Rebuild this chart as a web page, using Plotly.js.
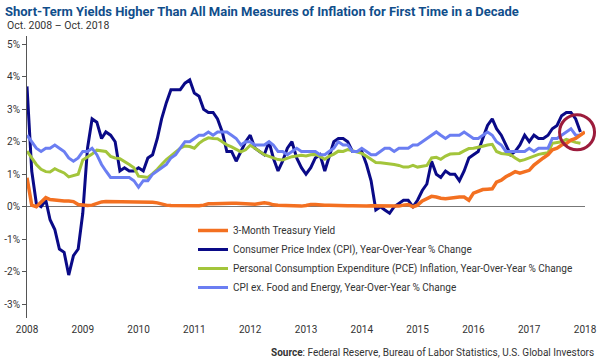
<!DOCTYPE html>
<html>
<head>
<meta charset="utf-8">
<script src="https://cdn.plot.ly/plotly-3.0.1.min.js"></script>
<style>
  html, body { margin: 0; padding: 0; background: #fff; }
  #chart { width: 600px; height: 360px; }
</style>
</head>
<body>
<div id="chart"></div>
<script>
// ---- Data (monthly, first value = Oct. 2008) ----
const startDate = '2008-10-01';
const endDate = '2018-10-01';

const seriesNames = [
  '3-Month Treasury Yield',
  'Consumer Price Index (CPI), Year-Over-Year % Change',
  'Personal Consumption Expenditure (PCE) Inflation, Year-Over-Year % Change',
  'CPI ex. Food and Energy, Year-Over-Year % Change'
];

// 3-Month Treasury Yield (%), Oct 2008 - Oct 2018
const tbill = [
  0.89,0.05,0.0,0.15,0.28,0.22,0.2,0.18,0.18,0.18,
  0.16,0.07,0.05,0.04,0.05,0.1,0.15,0.16,0.16,0.15,
  0.16,0.15,0.14,0.15,0.14,0.15,0.16,0.14,0.12,0.08,
  0.05,0.04,0.04,0.03,0.02,0.02,0.02,0.03,0.05,0.09,
  0.09,0.1,0.1,0.1,0.11,0.11,0.1,0.1,0.09,0.08,
  0.1,0.12,0.1,0.06,0.05,0.04,0.04,0.03,0.03,0.02,
  0.04,0.07,0.07,0.05,0.05,0.05,0.04,0.03,0.03,0.03,
  0.03,0.02,0.02,0.02,0.03,0.03,0.02,0.03,0.02,0.02,
  0.02,0.05,0.07,0.0,0.05,0.18,0.25,0.32,0.3,0.26,
  0.25,0.27,0.28,0.3,0.3,0.2,0.42,0.48,0.53,0.54,
  0.55,0.76,0.82,0.92,1.0,1.08,1.03,1.08,1.12,1.28,
  1.4,1.5,1.6,1.75,1.8,1.9,1.95,2.05,2.1,2.2,2.3
];

// CPI YoY (%), Oct 2008 - Sep 2018
const cpi = [
  3.7,1.1,0.1,
  0.0,0.2,-0.4,-0.7,-1.3,-1.4,-2.1,-1.5,-1.3,-0.2,1.8,2.7,
  2.6,2.1,2.3,2.2,2.0,1.1,1.2,1.1,1.1,1.2,1.1,1.5,
  1.6,2.1,2.7,3.2,3.6,3.6,3.6,3.8,3.9,3.5,3.4,3.0,
  2.9,2.9,2.7,2.3,1.7,1.7,1.4,1.7,2.0,2.2,1.8,1.7,
  1.6,2.0,1.5,1.1,1.4,1.8,2.0,1.5,1.2,1.0,1.2,1.5,
  1.6,1.1,1.5,2.0,2.1,2.1,2.0,1.7,1.7,1.7,1.3,0.8,
  -0.1,0.0,-0.1,-0.2,0.0,0.1,0.2,0.2,0.0,0.2,0.5,0.7,
  1.4,1.0,0.9,1.1,1.0,1.0,0.8,1.1,1.5,1.6,1.7,2.1,
  2.5,2.7,2.4,2.2,1.9,1.6,1.7,1.9,2.2,2.0,2.2,2.1,
  2.1,2.2,2.4,2.5,2.8,2.9,2.9,2.7,2.3
];

// PCE inflation YoY (%), Oct 2008 - Sep 2018
const pce = [
  1.71,1.48,1.3,1.15,1.08,1.07,1.17,1.1,1.04,0.92,
  0.95,1.0,1.44,1.52,1.62,1.74,1.72,1.7,1.55,1.5,
  1.48,1.4,1.3,1.2,0.94,0.92,0.9,1.02,1.15,1.3,
  1.45,1.56,1.68,1.8,1.87,1.85,1.8,1.95,2.05,2.12,
  2.1,2.09,2.0,1.9,1.84,1.77,1.69,1.75,1.89,1.8,
  1.7,1.6,1.55,1.5,1.45,1.44,1.5,1.54,1.56,1.58,
  1.56,1.6,1.61,1.55,1.46,1.55,1.62,1.71,1.7,1.76,
  1.72,1.68,1.64,1.55,1.45,1.36,1.35,1.34,1.32,1.3,
  1.27,1.22,1.22,1.27,1.22,1.24,1.27,1.5,1.52,1.46,
  1.56,1.62,1.64,1.64,1.72,1.79,1.8,1.82,1.86,1.9,
  1.92,1.7,1.64,1.62,1.6,1.5,1.41,1.45,1.51,1.56,
  1.61,1.64,1.66,1.95,1.97,2.0,2.07,2.02,1.98,1.95
];

// CPI ex. Food and Energy YoY (%), Oct 2008 - Sep 2018
const coreCpi = [
  2.2,2.0,1.8,
  1.7,1.8,1.8,1.9,1.8,1.7,1.5,1.4,1.5,1.7,1.7,1.8,
  1.6,1.3,1.1,0.9,0.9,0.9,0.9,0.9,0.8,0.6,0.8,0.8,
  1.0,1.1,1.2,1.3,1.5,1.6,1.8,2.0,2.0,2.1,2.2,2.2,
  2.3,2.2,2.3,2.3,2.3,2.2,2.1,1.9,2.0,2.0,1.9,1.9,
  1.9,2.0,1.9,1.7,1.7,1.6,1.7,1.8,1.7,1.7,1.7,1.7,
  1.6,1.6,1.7,1.8,2.0,1.9,1.9,1.7,1.7,1.8,1.7,1.6,
  1.6,1.7,1.8,1.8,1.7,1.8,1.8,1.8,1.9,1.9,2.0,2.1,
  2.2,2.3,2.2,2.1,2.2,2.2,2.2,2.3,2.2,2.1,2.1,2.2,
  2.3,2.2,2.0,1.9,1.7,1.7,1.7,1.7,1.7,1.8,1.7,1.8,
  1.8,1.8,2.1,2.1,2.2,2.3,2.4,2.2,2.2
];

// Axis ticks
const xTickVals = ['2008-10-01','2009-10-01','2010-10-01','2011-10-01','2012-10-01','2013-10-01',
                   '2014-10-01','2015-10-01','2016-10-01','2017-10-01','2018-10-01'];
const xTickText = ['2008','2009','2010','2011','2012','2013','2014','2015','2016','2017','2018'];
const yTickVals = [-3,-2,-1,0,1,2,3,4,5];
const yTickText = ['-3%','-2%','-1%','0%','1%','2%','3%','4%','5%'];

// Highlighted point (circled)
const highlightDate = '2018-08-10';
const highlightValue = 2.29;

// ---- Build month list ----
function monthList(start, n) {
  const out = [];
  const y0 = parseInt(start.slice(0, 4), 10), m0 = parseInt(start.slice(5, 7), 10) - 1;
  for (let i = 0; i < n; i++) {
    const t = m0 + i;
    const y = y0 + Math.floor(t / 12), m = (t % 12) + 1;
    out.push(y + '-' + String(m).padStart(2, '0') + '-01');
  }
  return out;
}

const colors = ['#f37021', '#0a0a87', '#a3c53b', '#6b7ef2'];
const yRange = [-3.42, 5.25];

const mk = (vals, i, w, rank) => ({
  type: 'scatter', mode: 'lines',
  x: monthList(startDate, vals.length), y: vals,
  name: seriesNames[i],
  line: { color: colors[i], width: w },
  legendrank: rank,
  hoverinfo: 'skip'
});

const traces = [
  mk(cpi, 1, 3, 2),
  mk(pce, 2, 3, 3),
  mk(coreCpi, 3, 3, 4),
  mk(tbill, 0, 3.5, 1)
];

const t0 = new Date(startDate).getTime(), t1 = new Date(endDate).getTime();
const hx = (new Date(highlightDate).getTime() - t0) / (t1 - t0);
const hy = (highlightValue - yRange[0]) / (yRange[1] - yRange[0]);
const zeroPos = (0 - yRange[0]) / (yRange[1] - yRange[0]);

const FONT = 'Liberation Sans Narrow, Roboto, Arial, sans-serif';

const layout = {
  width: 600, height: 360,
  margin: { l: 27, r: 15, t: 36, b: 42 },
  paper_bgcolor: '#fff', plot_bgcolor: '#fff',
  font: { family: FONT, color: '#333', size: 10 },
  title: {
    text: '<b>Short-Term Yields Higher Than All Main Measures of Inflation for First Time in a Decade</b>',
    font: { family: FONT, size: 13, color: '#104e8b' },
    x: 5 / 600, xref: 'container', xanchor: 'left',
    y: 1 - 11 / 360, yref: 'container', yanchor: 'middle'
  },
  xaxis: {
    type: 'date', range: [startDate, endDate],
    tickmode: 'array', tickvals: xTickVals, ticktext: xTickText,
    ticks: '', showline: false, showgrid: false, zeroline: false,
    tickfont: { family: 'Roboto, Arial, sans-serif', size: 10, color: '#333' },
    ticklabelstandoff: 4
  },
  xaxis2: {
    type: 'date', range: [startDate, endDate], overlaying: 'x',
    anchor: 'free', position: zeroPos,
    tickmode: 'array', tickvals: xTickVals,
    ticks: 'outside', ticklen: 4, tickcolor: '#666', tickwidth: 1,
    showticklabels: false, showline: false, showgrid: false, zeroline: false
  },
  yaxis: {
    range: yRange,
    tickmode: 'array', tickvals: yTickVals, ticktext: yTickText,
    ticks: 'outside', ticklen: 4, tickcolor: '#555', tickwidth: 1,
    showline: true, linecolor: '#555', linewidth: 1,
    showgrid: false, zeroline: true, zerolinecolor: '#777', zerolinewidth: 1,
    tickfont: { family: 'Roboto, Arial, sans-serif', size: 10, color: '#333' }
  },
  showlegend: true,
  legend: {
    x: (193 - 27) / 558, xanchor: 'left',
    y: (318 - 216) / 282, yanchor: 'top',
    bgcolor: 'rgba(0,0,0,0)', borderwidth: 0,
    font: { family: 'Roboto, Arial, sans-serif', size: 10, color: '#333' },
    traceorder: 'normal'
  },
  shapes: [{
    type: 'circle', xref: 'paper', yref: 'paper',
    xsizemode: 'pixel', ysizemode: 'pixel',
    xanchor: hx, yanchor: hy,
    x0: -17.5, x1: 17.5, y0: -17.5, y1: 17.5,
    line: { color: '#9c1c3c', width: 3 }
  }],
  annotations: [
    {
      text: 'Oct. 2008 – Oct. 2018', xref: 'paper', yref: 'paper',
      x: (5 - 27) / 558, xanchor: 'left', y: (318 - 25) / 282, yanchor: 'middle',
      showarrow: false, font: { family: 'Roboto, Arial, sans-serif', size: 10.5, color: '#333' }
    },
    {
      text: '<b>Source</b>: Federal Reserve, Bureau of Labor Statistics, U.S. Global Investors',
      xref: 'paper', yref: 'paper',
      x: (596 - 27) / 558, xanchor: 'right', y: (318 - 352) / 282, yanchor: 'middle',
      showarrow: false, font: { family: 'Roboto, Arial, sans-serif', size: 10, color: '#333' }
    }
  ]
};

Plotly.newPlot('chart', traces, layout, { displayModeBar: false, staticPlot: true });
</script>
</body>
</html>
